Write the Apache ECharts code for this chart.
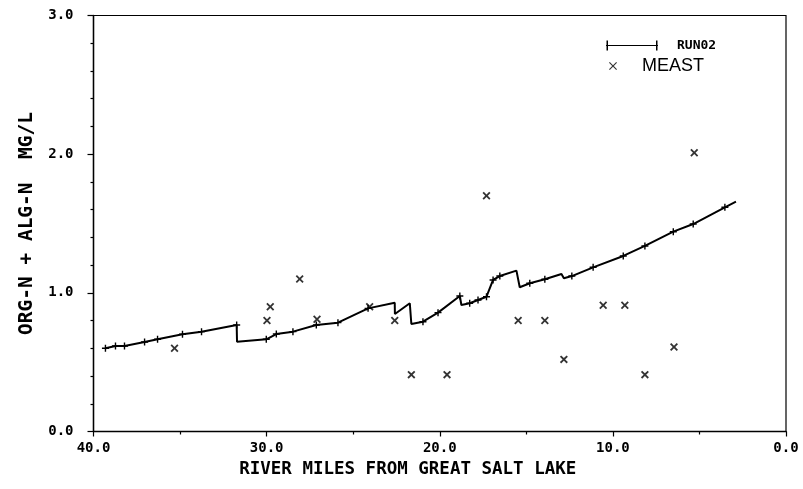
<!DOCTYPE html>
<html>
<head>
<meta charset="utf-8">
<script src="https://cdn.jsdelivr.net/npm/echarts@6/dist/echarts.min.js"></script>
<style>
  html, body { margin: 0; padding: 0; background: #fff; }
  #chart { width: 803px; height: 489px; }
</style>
</head>
<body>
<div id="chart"></div>
<script>
// Simulated profile (RUN02): river mile and concentration, steps drawn as paired points
const runMiles = [39.31, 38.73, 38.21, 37.05, 36.30, 34.86, 33.76, 31.73, 31.71, 30.02,
                  29.44, 28.48, 27.13, 25.88, 24.14, 22.60, 22.59, 21.73, 21.64, 20.97,
                  20.10, 18.84, 18.75, 18.27, 17.79, 17.30, 16.92, 16.53, 15.57, 15.38,
                  14.80, 13.93, 12.97, 12.83, 12.37, 11.14, 9.40, 8.15, 6.51, 5.36,
                  3.53, 2.89];
const runValues = [0.600, 0.617, 0.617, 0.645, 0.665, 0.701, 0.720, 0.768, 0.648, 0.665,
                   0.703, 0.720, 0.768, 0.785, 0.888, 0.929, 0.847, 0.925, 0.775, 0.792,
                   0.857, 0.977, 0.912, 0.925, 0.948, 0.972, 1.093, 1.121, 1.160, 1.040,
                   1.069, 1.098, 1.136, 1.105, 1.121, 1.184, 1.266, 1.338, 1.441, 1.496,
                   1.617, 1.657];
// 1 = computational node printed with a "+" marker, 0 = step vertex only
const runNode = [1, 1, 1, 1, 1, 1, 1, 1, 0, 1,
                 1, 1, 1, 1, 1, 0, 0, 0, 0, 1,
                 1, 1, 0, 1, 1, 1, 1, 1, 0, 0,
                 1, 1, 0, 0, 1, 1, 1, 1, 1, 1,
                 1, 0];

// Field measurements (MEAST)
const measMiles = [35.32, 29.98, 29.79, 28.09, 27.09, 24.05, 22.60, 21.64, 19.58, 17.30,
                   15.47, 13.93, 12.83, 10.56, 9.31, 8.15, 6.47, 5.30];
const measValues = [0.60, 0.80, 0.90, 1.10, 0.81, 0.90, 0.80, 0.41, 0.41, 1.70,
                    0.80, 0.80, 0.52, 0.91, 0.91, 0.41, 0.61, 2.01];

const xTicks = [0, 10, 20, 30, 40];
const yTicks = [0, 1, 2, 3];

const PLUS = 'path://M4,0H6V4H10V6H6V10H4V6H0V4H4Z';
const CROSS = 'path://M0,1.6L1.6,0L5,3.4L8.4,0L10,1.6L6.6,5L10,8.4L8.4,10L5,6.6L1.6,10L0,8.4L3.4,5Z';
const CROSS_THIN = 'path://M0,1L1,0L5,4L9,0L10,1L6,5L10,9L9,10L5,6L1,10L0,9L4,5Z';
const LEGEND_LINE = 'path://M0,4.5H52V5.5H0Z M0.5,0H2V10H0.5Z M50,0H51.5V10H50Z';
const MONO = '"DejaVu Sans Mono", "Liberation Mono", monospace';

const runData = runMiles.map((m, i) => [m, runValues[i]]);
const measData = measMiles.map((m, i) => [m, measValues[i]]);

const chart = echarts.init(document.getElementById('chart'), null, { renderer: 'canvas' });

chart.setOption({
  animation: false,
  backgroundColor: '#fff',
  grid: {
    left: 93.5, right: 17, top: 15.5, bottom: 57.5,
    show: true, borderColor: '#000', borderWidth: 1.2, backgroundColor: 'transparent'
  },
  legend: [
    {
      data: [{ name: 'RUN02', icon: LEGEND_LINE }],
      left: 606, top: 39, padding: 0,
      itemWidth: 52, itemHeight: 10,
      selectedMode: false,
      itemStyle: { color: '#000' },
      textStyle: { fontFamily: MONO, fontWeight: 'bold', fontSize: 13, color: '#000', padding: [0, 0, 0, 14] }
    },
    {
      data: [{ name: 'MEAST', icon: CROSS_THIN }],
      left: 609, top: 57, padding: 0,
      itemWidth: 8, itemHeight: 8,
      selectedMode: false,
      itemStyle: { color: '#000' },
      textStyle: { fontFamily: '"Liberation Sans", Arial, sans-serif', fontSize: 18, color: '#000', padding: [0, 0, 0, 20] }
    }
  ],
  xAxis: {
    type: 'value',
    inverse: true,
    min: 0, max: 40, interval: 10,
    name: 'RIVER MILES FROM GREAT SALT LAKE',
    nameLocation: 'middle', nameGap: 27,
    nameTextStyle: {
      fontFamily: MONO, fontWeight: 'bold', fontSize: 17.5, color: '#000',
      verticalAlign: 'top', padding: [0, 64, 0, 0]
    },
    axisLine: { show: true, onZero: false, lineStyle: { color: '#000', width: 1.4 } },
    axisTick: { show: true, length: 5, lineStyle: { color: '#000', width: 1.2 } },
    minorTick: { show: true, splitNumber: 2, length: 3, lineStyle: { color: '#000', width: 1.2 } },
    splitLine: { show: false },
    axisLabel: {
      margin: 10, fontFamily: MONO, fontWeight: 'bold', fontSize: 14, color: '#000',
      formatter: v => xTicks.includes(v) ? v.toFixed(1) : ''
    }
  },
  yAxis: {
    type: 'value',
    min: 0, max: 3, interval: 1,
    name: 'ORG-N + ALG-N  MG/L',
    nameLocation: 'middle', nameGap: 53, nameRotate: 90,
    nameTextStyle: { fontFamily: MONO, fontWeight: 'bold', fontSize: 19.5, color: '#000' },
    axisLine: { show: true, onZero: false, lineStyle: { color: '#000', width: 1.4 } },
    axisTick: { show: true, length: 6, lineStyle: { color: '#000', width: 1.2 } },
    minorTick: { show: true, splitNumber: 5, length: 3, lineStyle: { color: '#000', width: 1.2 } },
    splitLine: { show: false },
    axisLabel: {
      margin: 20, fontFamily: MONO, fontWeight: 'bold', fontSize: 14, color: '#000',
      formatter: v => yTicks.includes(v) ? v.toFixed(1) : ''
    }
  },
  series: [
    {
      name: 'RUN02',
      type: 'line',
      data: runData,
      showAllSymbol: true,
      symbol: (val, params) => runNode[params.dataIndex] ? PLUS : 'none',
      symbolSize: 7,
      lineStyle: { color: '#000', width: 2 },
      itemStyle: { color: '#000' },
      z: 3
    },
    {
      name: 'MEAST',
      type: 'scatter',
      data: measData,
      symbol: CROSS,
      symbolSize: 8,
      itemStyle: { color: '#000' },
      z: 4
    }
  ]
});
</script>
</body>
</html>
